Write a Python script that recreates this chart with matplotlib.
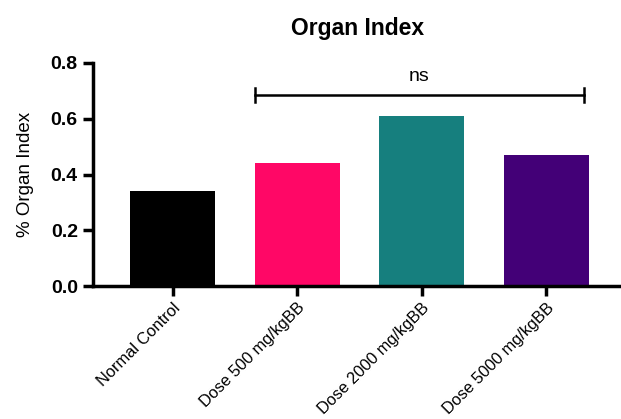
import numpy as np
import matplotlib
matplotlib.use("Agg")
import matplotlib.pyplot as plt

plt.rcParams['font.family'] = ['Liberation Sans', 'DejaVu Sans']

groups = ['Normal Control', 'Dose 500 mg/kgBB', 'Dose 2000 mg/kgBB', 'Dose 5000 mg/kgBB']
values = [0.34, 0.44, 0.61, 0.47]
colors = ['#000000', '#FF0766', '#167F7E', '#430077']
yticks = [0.0, 0.2, 0.4, 0.6, 0.8]

fig = plt.figure(figsize=(6.21, 4.19), dpi=100)
ax = fig.add_axes([0.150, 0.317, 0.85, 0.533])

x = np.arange(len(groups))
ax.bar(x, values, width=0.68, color=colors, zorder=2)

ax.set_xlim(-0.64, 3.60)
ax.set_ylim(0, 0.8)
ax.set_yticks(yticks)
ax.set_yticklabels([f'{v:.1f}' for v in yticks], fontweight='bold', fontsize=14)
ax.set_xticks(x)
ax.set_xticklabels(groups, rotation=45, ha='right', rotation_mode='anchor', fontsize=11.8)
ax.tick_params(axis='x', length=7, width=2.5, pad=3)
ax.tick_params(axis='y', length=7, width=2.5, pad=4)
for s in ['top', 'right']:
    ax.spines[s].set_visible(False)
for s in ['left', 'bottom']:
    ax.spines[s].set_linewidth(2.5)

ax.set_ylabel('% Organ Index', fontsize=13.5, labelpad=12)
ax.set_title('Organ Index', fontweight='bold', fontsize=16.5, pad=20)

# significance bracket
yb = 0.685
ax.plot([0.66, 3.3], [yb, yb], color='black', lw=1.8, clip_on=False)
for xe in [0.66, 3.3]:
    ax.plot([xe, xe], [yb - 0.025, yb + 0.025], color='black', lw=1.8, clip_on=False)
ax.text((0.66 + 3.3) / 2, yb + 0.035, 'ns', ha='center', va='bottom', fontsize=14)

fig.savefig('out.png', dpi=100)
